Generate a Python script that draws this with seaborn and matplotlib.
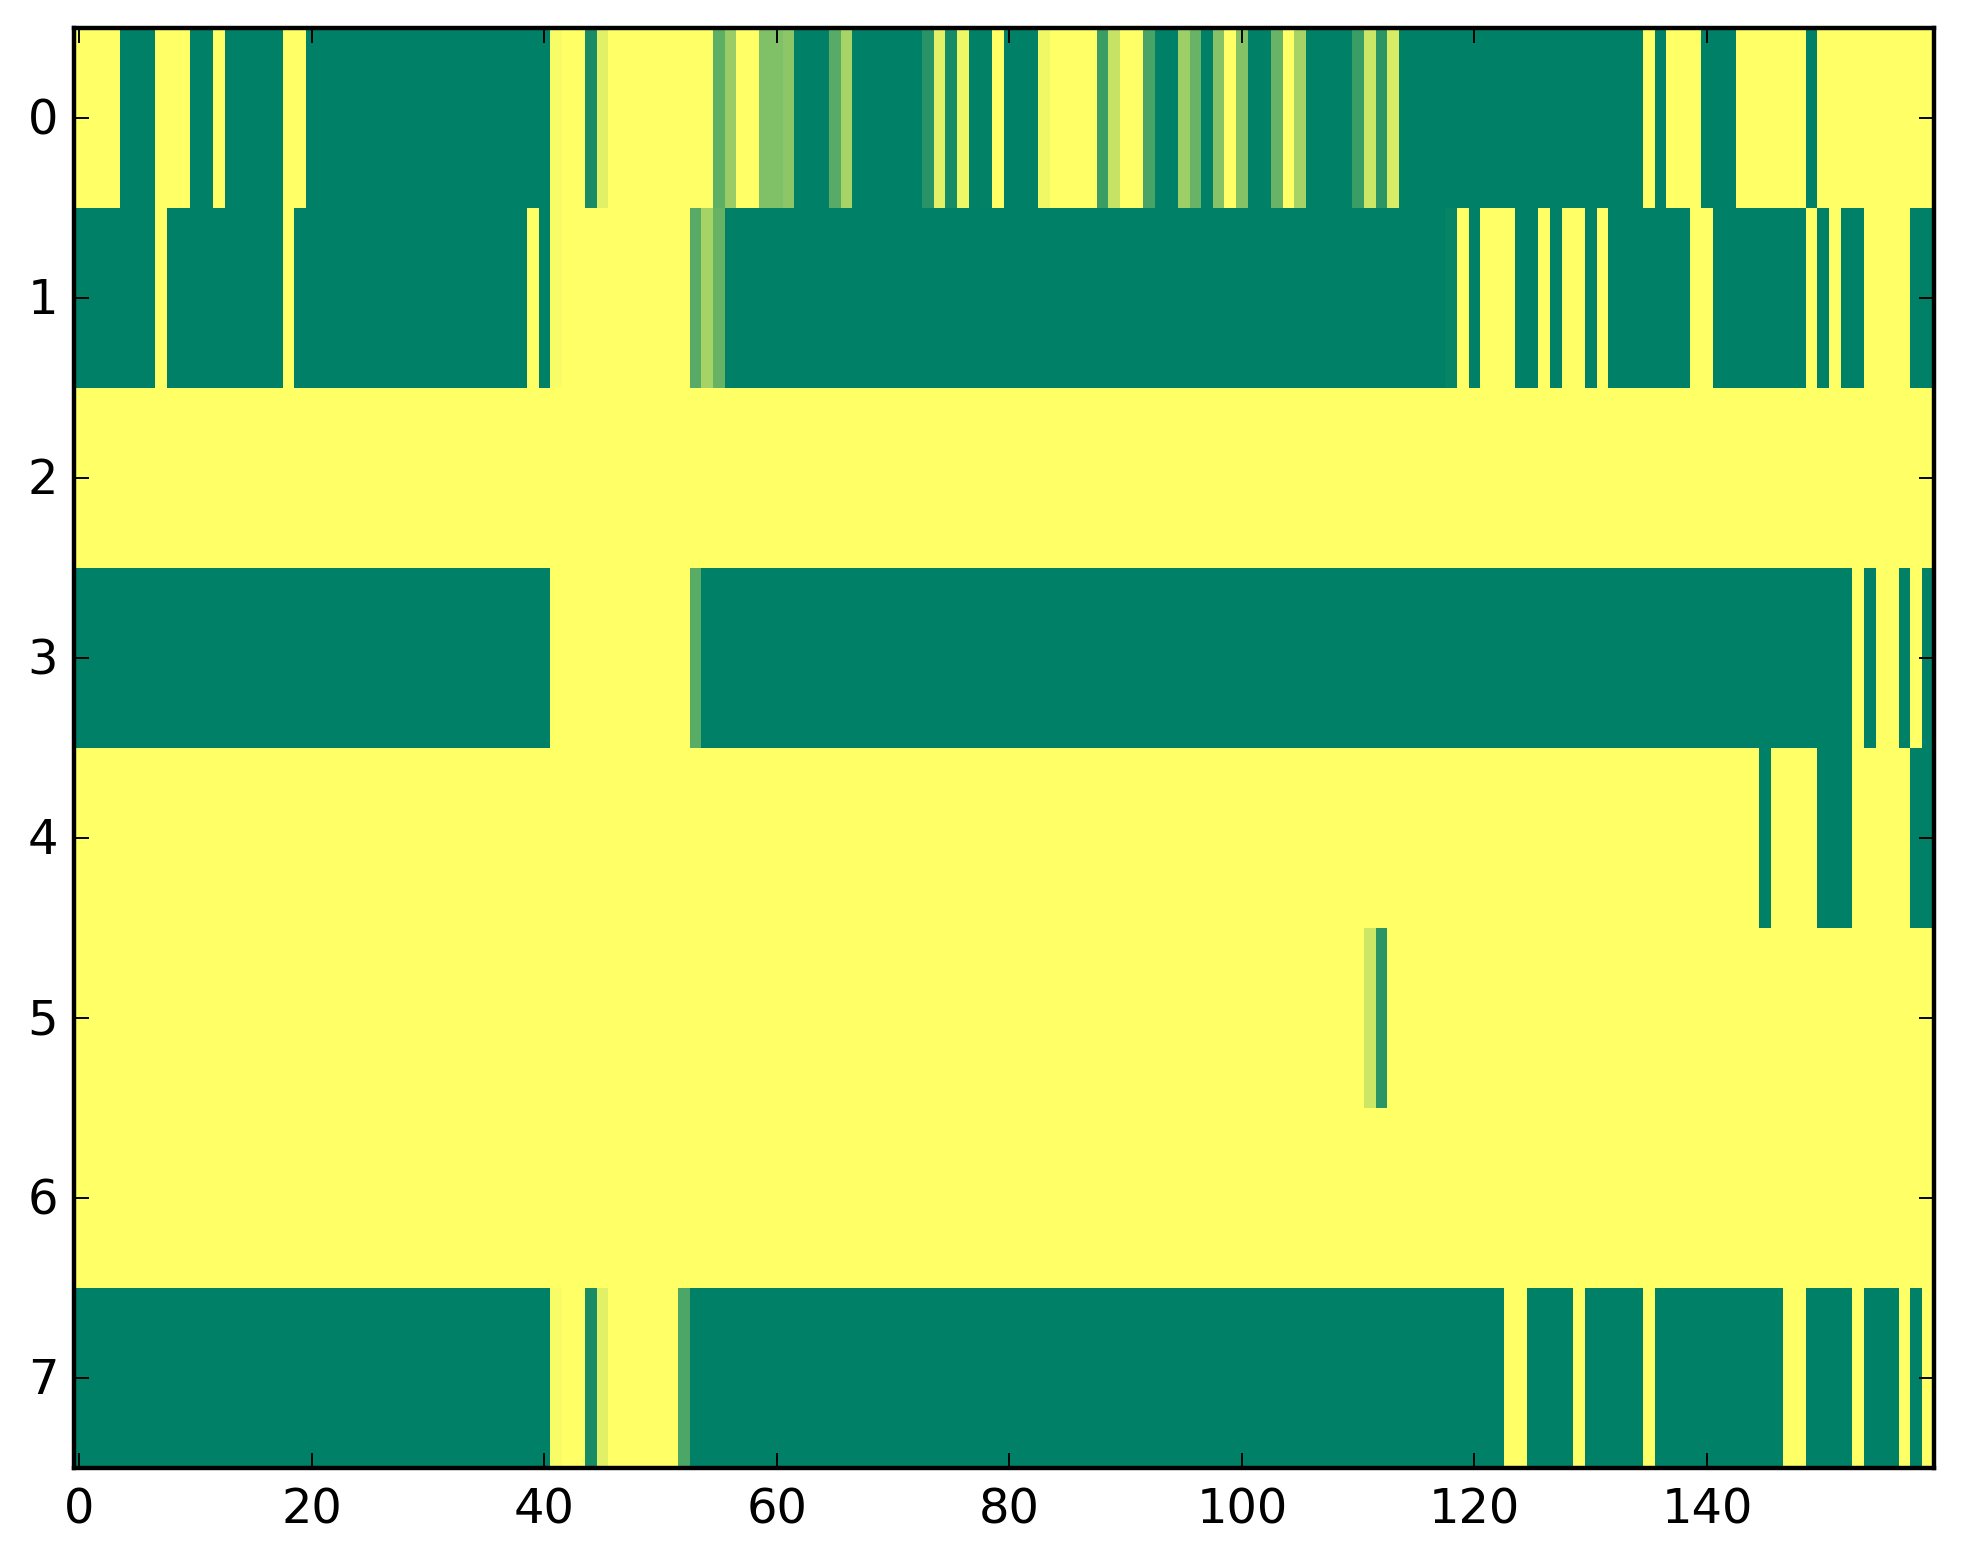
#!/usr/bin/env python3
import numpy as np
import matplotlib
matplotlib.use('Agg')
import matplotlib.pyplot as plt
from matplotlib.transforms import ScaledTranslation
import seaborn as sns

row0 = ([1]*4 + [0]*3 + [1]*3 + [0]*2 + [1] + [0]*5 + [1]*2 + [0]*21 + [.97] + [1]*2 + [.1, .88] + [1]*9
        + [.37, .6] + [1]*2 + [.5, .5, .55] + [0]*3 + [.34, .66] + [0]*6 + [.16, .89, .09, .93, 0, .01, 1]
        + [0]*3 + [.94] + [1]*4 + [.23, .78] + [1]*2 + [.28] + [0]*2 + [.62, .41, 0, .53, 1, .52] + [0]*2
        + [.41, 1, .65] + [0]*4 + [.23, .8, .17, .85] + [0]*21 + [1, 0] + [1]*3 + [0]*3 + [1]*6 + [0] + [1]*10)
row1 = ([0]*7 + [1] + [0]*10 + [1] + [0]*20 + [1, 0, .97] + [1]*11 + [.34, .65, .4] + [0]*62 + [.03, 1, 0]
        + [1]*3 + [0]*2 + [1, 0] + [1]*2 + [0, 1] + [0]*7 + [1]*2 + [0]*8 + [1, 0, 1] + [0]*2 + [1]*4 + [0]*2)
row2 = [1]*160
row3 = [0]*41 + [1]*12 + [.35] + [0]*99 + [1, 0] + [1]*2 + [0, 1, 0]
row4 = [1]*145 + [0] + [1]*4 + [0]*3 + [1]*5 + [0]*2
row5 = [1]*111 + [.8, .17] + [1]*47
row6 = [1]*160
row7 = ([0]*41 + [.97] + [1]*2 + [.1, .88] + [1]*6 + [.3] + [0]*70 + [1]*2 + [0]*4 + [1] + [0]*5 + [1]
        + [0]*11 + [1]*2 + [0]*4 + [1] + [0]*3 + [1, 0, 1])

xtick_labels = [0, 20, 40, 60, 80, 100, 120, 140]
ytick_labels = [0, 1, 2, 3, 4, 5, 6, 7]

W, H, DPI = 1963, 1564, 276

fig = plt.figure(figsize=(W / DPI, H / DPI), dpi=DPI)
ax = fig.add_axes([73.5 / W, 1 - 1468.4 / H, (1933.7 - 73.5) / W, (1468.4 - 28.3) / H])

data = np.array([row0, row1, row2, row3, row4, row5, row6, row7])
sns.heatmap(data, cmap='summer', vmin=0, vmax=1, cbar=False, ax=ax)

ax.set_xticks([v + 0.5 for v in xtick_labels])
ax.set_xticklabels(xtick_labels, rotation=0)
ax.set_yticks([v + 0.5 for v in ytick_labels])
ax.set_yticklabels(ytick_labels, rotation=0)
ax.tick_params(direction='in', length=4, width=0.5, top=True, right=True,
               labelsize=12.5, colors='black', pad=4)
ax.tick_params(axis='x', pad=4.8)

# the y labels sit a little lower than matplotlib centres them now
down = ScaledTranslation(0, -2.5 / DPI, fig.dpi_scale_trans)
for lbl in ax.get_yticklabels():
    lbl.set_transform(lbl.get_transform() + down)

for spine in ax.spines.values():
    spine.set_visible(True)
    spine.set_linewidth(1.15)
    spine.set_color('black')

fig.savefig('out.png', dpi=DPI)
